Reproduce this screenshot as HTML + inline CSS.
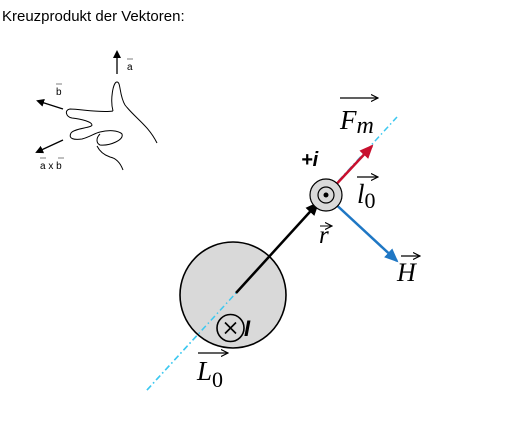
<!DOCTYPE html>
<html><head><meta charset="utf-8"><style>
body{margin:0;background:#fff;width:506px;height:427px;overflow:hidden}
svg{display:block}
text{font-family:"Liberation Serif",serif}
</style></head><body>
<svg width="506" height="427" viewBox="0 0 506 427">
<defs>
<marker id="ak" markerWidth="8" markerHeight="8" refX="6" refY="4" orient="auto" markerUnits="userSpaceOnUse"><path d="M0,0 L8,4 L0,8 z" fill="#000"/></marker>
<marker id="ak2" markerWidth="14" markerHeight="12" refX="12" refY="6" orient="auto" markerUnits="userSpaceOnUse"><path d="M0,0 L14,6 L0,12 z" fill="#000"/></marker>
<marker id="ar" markerWidth="14" markerHeight="12" refX="12" refY="6" orient="auto" markerUnits="userSpaceOnUse"><path d="M0,0 L14,6 L0,12 z" fill="#c8102e"/></marker>
<marker id="ab" markerWidth="14" markerHeight="12" refX="12" refY="6" orient="auto" markerUnits="userSpaceOnUse"><path d="M0,0 L14,6 L0,12 z" fill="#1f77c4"/></marker>
<marker id="sm" markerWidth="8" markerHeight="8" refX="7" refY="4" orient="auto" markerUnits="userSpaceOnUse"><path d="M0,0.5 L7,4 L0,7.5" fill="none" stroke="#000" stroke-width="1.2"/></marker>
</defs>
<text x="2" y="21" font-size="15" style="font-family:'Liberation Sans',sans-serif">Kreuzprodukt der Vektoren:</text>

<g fill="none" stroke="#000" stroke-width="1">
<path d="M117,74 L117,52" marker-end="url(#ak)" stroke-width="1.3"/>
<path d="M63,109 L38,101" marker-end="url(#ak)" stroke-width="1.3"/>
<path d="M63,140 L37,152" marker-end="url(#ak)" stroke-width="1.3"/>
<path d="M113,111 C110,100 113,82 117,82 C121,82 119,95 125,105 C135,118 148,125 157,143"/>
<path d="M113,111 C100,113 80,109 70,109 C64,110 66,117 72,118 C82,119 92,122 92,125 C92,128 75,128 71,133 C68,139 74,140 82,139 C90,137 95,133 100,132"/>
<path d="M100,132 C108,130 118,130 122,134 C124,140 110,146 100,145 C96,143 96,138 100,134"/>
<path d="M97,146 C100,152 104,155 110,157 C115,158 120,162 123,170"/>
</g>
<text x="127" y="70" font-size="10" style="font-family:'Liberation Sans',sans-serif">a</text>
<text x="56" y="95" font-size="10" style="font-family:'Liberation Sans',sans-serif">b</text>
<text x="40" y="169" font-size="10" style="font-family:'Liberation Sans',sans-serif">a x b</text>
<g stroke="#000" stroke-width="0.6"><path d="M127,59 h6M56,84 h6M40,158 h6M58,158 h6"/></g>

<line x1="147" y1="390" x2="397" y2="117" stroke="#3cc8f0" stroke-width="1.5" stroke-dasharray="6,3,1.5,3"/>
<circle cx="233" cy="295" r="53" fill="#d9d9d9" stroke="#000" stroke-width="1.6"/>
<line x1="147" y1="390" x2="236" y2="293" stroke="#3cc8f0" stroke-width="1.5" stroke-dasharray="6,3,1.5,3"/>
<circle cx="230.5" cy="328" r="13.5" fill="none" stroke="#000" stroke-width="1.6"/>
<path d="M225,322.5 L236,333.5 M236,322.5 L225,333.5" stroke="#000" stroke-width="1.6"/>
<text x="244" y="336" font-size="22" font-weight="bold" font-style="italic" style="font-family:'Liberation Sans',sans-serif">I</text>
<line x1="236" y1="293" x2="318" y2="203" stroke="#000" stroke-width="2.5" marker-end="url(#ak2)"/>
<line x1="330" y1="191" x2="372" y2="146" stroke="#c8102e" stroke-width="2.5" marker-end="url(#ar)"/>
<line x1="330" y1="199" x2="397" y2="261" stroke="#1f77c4" stroke-width="2.5" marker-end="url(#ab)"/>
<circle cx="326" cy="195" r="16" fill="#d9d9d9" stroke="#000" stroke-width="1.2"/>
<circle cx="326" cy="195" r="8" fill="none" stroke="#000" stroke-width="1.2"/>
<circle cx="326" cy="195" r="2.5" fill="#000"/>
<text x="301" y="166" font-size="20" font-weight="bold" font-style="italic" style="font-family:'Liberation Sans',sans-serif">+i</text>
<text x="340" y="129" font-size="27" font-style="italic">F<tspan font-size="24" dy="4">m</tspan></text>
<line x1="340" y1="98" x2="378" y2="98" stroke="#000" stroke-width="1.2" marker-end="url(#sm)"/>
<text x="357" y="203" font-size="27" font-style="italic">l<tspan font-style="normal" font-size="22" dy="5">0</tspan></text>
<line x1="357" y1="177" x2="378" y2="177" stroke="#000" stroke-width="1.2" marker-end="url(#sm)"/>
<text x="319" y="243" font-size="25" font-style="italic">r</text>
<line x1="320" y1="226" x2="332" y2="226" stroke="#000" stroke-width="1" marker-end="url(#sm)"/>
<text x="397" y="281" font-size="26" font-style="italic">H</text>
<line x1="401" y1="256" x2="420" y2="256" stroke="#000" stroke-width="1.2" marker-end="url(#sm)"/>
<text x="197" y="380" font-size="27" font-style="italic">L<tspan font-style="normal" font-size="22" dy="7">0</tspan></text>
<line x1="198" y1="353" x2="228" y2="353" stroke="#000" stroke-width="1.2" marker-end="url(#sm)"/>
</svg>
</body></html>
